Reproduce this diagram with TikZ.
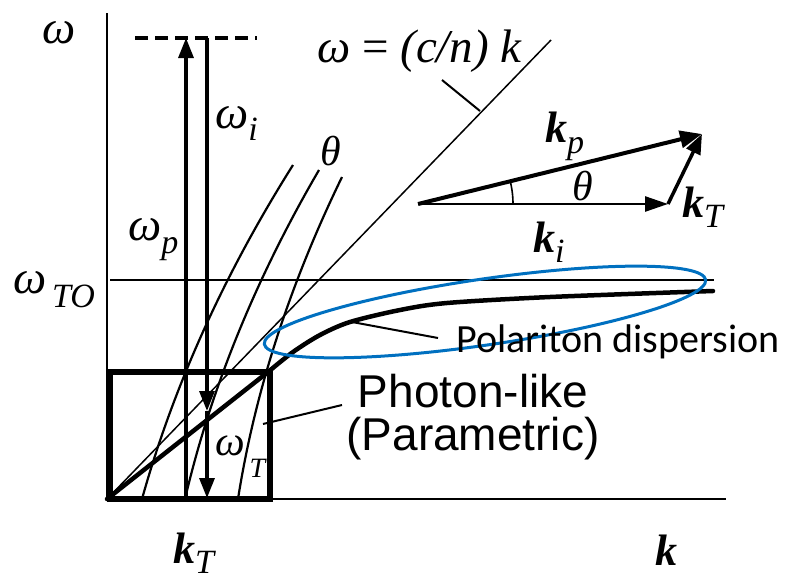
\documentclass[tikz,border=0pt]{standalone}
\usepackage{fontspec}
\setmainfont{Liberation Serif}
\newfontfamily\arialf{Liberation Sans}
\newfontfamily\calibf{Carlito}
\usetikzlibrary{arrows.meta}
\definecolor{ellblue}{RGB}{0,112,192}
\newcommand\fs[1]{\fontsize{#1}{#1}\selectfont}
\begin{document}
\begin{tikzpicture}[x=1pt,y=-1pt,
  axisline/.style={line width=2.6pt},
  thinline/.style={line width=1.5pt},
  thcurve/.style={line width=2.2pt},
  varrow/.style={line width=3.2pt,-{Triangle[length=20pt,width=15pt]}},
  boxst/.style={line width=5.5pt},
  polar/.style={line width=4.5pt,line cap=round},
  ellst/.style={draw=ellblue,line width=3pt},
  lab/.style={inner sep=0pt,anchor=base west},
  leader/.style={line width=2pt}]
\useasboundingbox (0,0) rectangle (787,584);
% key coordinates
\coordinate (O) at (107,499);
\coordinate (Ytop) at (107,13);
\coordinate (Xend) at (726,499);
\coordinate (TOa) at (110,280);
\coordinate (TOb) at (714,280);
\coordinate (C) at (268,372);
\coordinate (CNtop) at (551,40);
% axes
\draw[axisline] (Ytop) -- (O) -- (Xend);
\draw[thinline] (TOa) -- (TOb);
% box
\coordinate (B1) at (110,372);
\coordinate (B2) at (270,499);
\draw[boxst] (B1) rectangle (B2);
% light line
\draw[thinline] (O) -- (CNtop);
% theta curves
\draw[thcurve] (142,499) .. controls (173,388) and (223,276) .. (293,165);
\draw[thcurve] (185,499) .. controls (211,388) and (256,278) .. (319,170);
\draw[thcurve] (238,499) .. controls (255,391) and (290,284) .. (342,177);
% polariton curve
\draw[polar] (O) -- (C);
\draw[polar] plot[smooth] coordinates {(268,372) (293,352) (320,335) (350,322) (400,310) (447,303) (550,297) (713,291)};
% dashed level
\coordinate (D1) at (135,38);
\coordinate (D2) at (257,38);
\draw[line width=4.5pt,dash pattern=on 13pt off 7pt] (D1) -- (D2);
% vertical arrows
\coordinate (Ub) at (186,499);
\coordinate (Ut) at (186,38);
\coordinate (Dt) at (207,38);
\coordinate (Dm) at (207,411);
\coordinate (Db) at (207,498);
\draw[varrow] (Ub) -- (Ut);
\draw[varrow] (Dt) -- (Dm);
\draw[varrow] (Dm) -- (Db);
% ellipse
\coordinate (E) at (485,312);
\draw[ellst,rotate around={8.3:(E)}] (E) ellipse [x radius=223,y radius=33];
% leaders
\coordinate (L1a) at (442,80);
\coordinate (L1b) at (480,111);
\draw[leader] (L1a) -- (L1b);
\coordinate (L2a) at (352,322);
\coordinate (L2b) at (438,338);
\draw[leader] (L2a) -- (L2b);
\coordinate (L3a) at (263,424);
\coordinate (L3b) at (342,405);
\draw[leader] (L3a) -- (L3b);
% k-vector triangle
\coordinate (V0) at (418,204);
\coordinate (Vi) at (668,204);
\coordinate (Vp) at (702,134);
\draw[line width=2.6pt,-{Triangle[length=23pt,width=15pt]}] (V0) -- (Vi);
\draw[line width=4pt,-{Triangle[length=22pt,width=17pt]}] (V0) -- (Vp);
\draw[line width=3.5pt,-{Triangle[length=20pt,width=15pt]}] (Vi) -- (Vp);
\draw[line width=1.6pt] plot[domain=0:13.8,samples=20] ({418+95*cos(\x)},{204-95*sin(\x)});
% labels
\node[lab] (wlab) at (42,43) {\fs{47}\itshape ω};
\node[lab] (wTO) at (13,293) {\fs{47}\itshape ω\raisebox{-14pt}{\fs{34}\,TO}};
\node[lab] (wi) at (215,128) {\fs{47}\itshape ω\raisebox{-12pt}{\fs{34}i}};
\node[lab] (wp) at (128,240) {\fs{47}\itshape ω\raisebox{-13pt}{\fs{34}p}};
\node[lab] (th1) at (320,165) {\fs{42}\itshape θ};
\node[lab] (wT) at (215,455) {\fs{42}\itshape ω\raisebox{-22pt}{\fs{28}\,T}};
\node[lab] (kTb) at (173,563) {\fs{44}\bfseries\itshape k\raisebox{-10pt}{\fs{34}\mdseries T}};
\node[lab] (kb) at (655,565) {\fs{44}\bfseries\itshape k};
\node[lab] (cn) at (317,62) {\fs{47}\itshape ω {\upshape =} (c/n) k};
\node[lab] (kp) at (545,142) {\fs{44}\bfseries\itshape k\raisebox{-11pt}{\fs{34}\mdseries p}};
\node[lab] (th2) at (572,200) {\fs{42}\itshape θ};
\node[lab] (kTr) at (682,217) {\fs{44}\bfseries\itshape k\raisebox{-10pt}{\fs{34}\mdseries T}};
\node[lab] (ki) at (533,252) {\fs{44}\bfseries\itshape k\raisebox{-10pt}{\fs{34}\mdseries i}};
\node[inner sep=0pt,anchor=base,align=center,font=\arialf\fontsize{46}{43}\selectfont] (photon) at (473,450) {Photon-like\\(Parametric)};
\node[lab,font=\calibf\fs{40}] (pol) at (456,352) {Polariton dispersion};
\end{tikzpicture}
\end{document}
